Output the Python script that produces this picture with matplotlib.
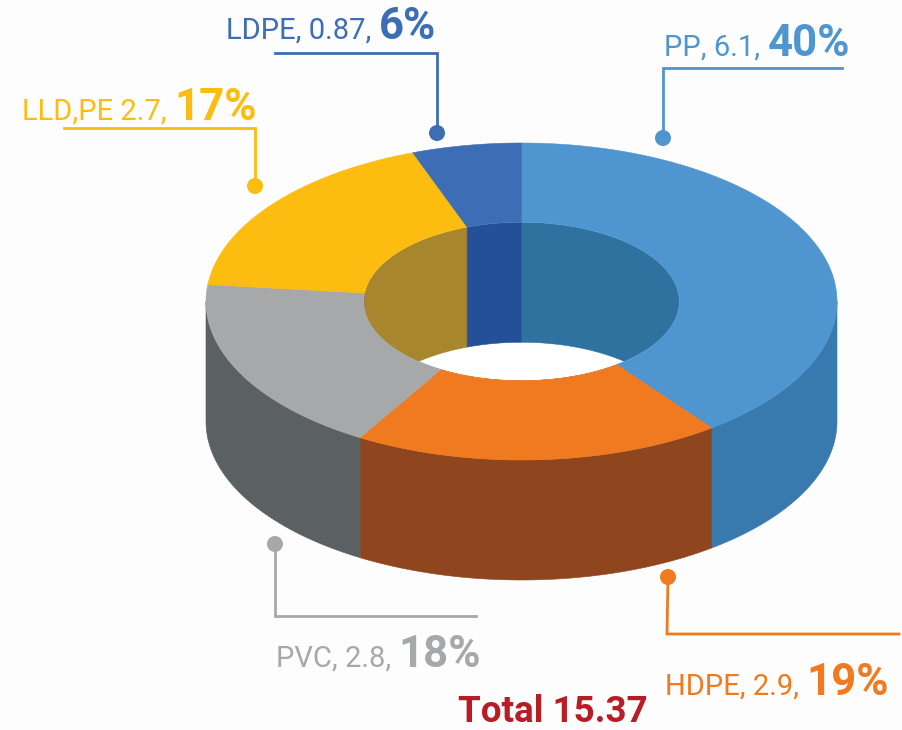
import numpy as np
import matplotlib
matplotlib.use('Agg')
import matplotlib.pyplot as plt
from matplotlib.patches import Polygon, Circle

categories = ['PP', 'HDPE', 'PVC', 'LLD,PE', 'LDPE']
amounts = ['6.1', '2.9', '2.8', '2.7', '0.87']
shares = [40, 19, 18, 17, 6]
# slice sizes as actually drawn in the picture (differ slightly from the printed shares)
drawn_shares = [39.7, 18.85, 18.15, 17.7, 5.6]
top_colors = ['#4f95d0', '#f07a1f', '#a6a8a9', '#fdbd10', '#3d6db5']
wall_colors = ['#3879ae', '#8f451e', '#5b6163', '#b08a2a', '#25509c']
inner_colors = ['#2f719f', '#8f451e', '#5b6163', '#a8862e', '#24509a']
label_colors = ['#4f95d0', '#f07a1f', '#a6a8a9', '#fdbd10', '#3d6db5']
total_label = 'Total 15.37'

W, H = 902, 730
CX, CY, RX, RY, DEPTH = 521.5, 301.5, 315.5, 158.5, 120
HOLE = 0.5

plt.rcParams['font.family'] = ['Roboto', 'DejaVu Sans']
fig = plt.figure(figsize=(W / 100, H / 100), dpi=100, facecolor='#fdfdfd')
ax = fig.add_axes([0, 0, 1, 1])
ax.set_xlim(0, W)
ax.set_ylim(H, 0)
ax.axis('off')


def pt(theta, scale=1.0, dy=0.0):
    t = np.radians(theta)
    return CX + RX * scale * np.sin(t), CY - RY * scale * np.cos(t) + dy


edges = np.concatenate([[0], np.cumsum(drawn_shares)]) * 3.6
spans = list(zip(edges[:-1], edges[1:]))

# hole background and clip
hole_t = np.linspace(0, 360, 361)
hole_xy = np.column_stack(pt(hole_t, HOLE))
hole_patch = Polygon(hole_xy, closed=True, fc='white', ec='none', zorder=0)
ax.add_patch(hole_patch)

# inner wall (far side of the hole), clipped to the hole
for (a, b), c in zip(spans, inner_colors):
    th = np.linspace(a, b, 200)
    up = np.column_stack(pt(th, HOLE))
    lo = np.column_stack(pt(th, HOLE, DEPTH))
    p = Polygon(np.vstack([up, lo[::-1]]), closed=True, fc=c, ec=c, lw=0.4, zorder=1)
    ax.add_patch(p)
    p.set_clip_path(hole_patch)

# outer wall (near side only, 90..270 degrees)
for (a, b), c in zip(spans, wall_colors):
    lo_a, hi_b = max(a, 90), min(b, 270)
    if lo_a >= hi_b:
        continue
    th = np.linspace(lo_a, hi_b, 200)
    up = np.column_stack(pt(th))
    lo = np.column_stack(pt(th, 1.0, DEPTH))
    ax.add_patch(Polygon(np.vstack([up, lo[::-1]]), closed=True, fc=c, ec=c, lw=0.4, zorder=2))

# top face
for (a, b), c in zip(spans, top_colors):
    th = np.linspace(a, b, 200)
    ax.add_patch(Polygon(np.vstack([np.column_stack(pt(th)), np.column_stack(pt(th[::-1], HOLE))]),
                         closed=True, fc=c, ec=c, lw=0.4, zorder=3))

# callouts: leader path, dot, text
leaders = [
    ([663, 663, 842], [138, 68, 68], 664, 56),
    ([668, 667, 899], [577, 634, 634], 665, 695),
    ([275, 275, 476], [544, 616, 616], 276, 667),
    ([255, 255, 64], [186, 128, 128], 22, 120),
    ([437, 437, 275], [133, 53, 53], 226, 39),
]
for (xs, ys, tx, ty), col, cat, amt, sh in zip(leaders, label_colors, categories, amounts, shares):
    ax.plot(xs, ys, color=col, lw=2, solid_joinstyle='miter', zorder=4)
    ax.add_patch(Circle((xs[0], ys[0]), 8, fc=col, ec='none', zorder=5))
    sep = ' ' if cat == 'LLD,PE' else ', '
    t = ax.text(tx, ty, f'{cat}{sep}{amt}, ', color=col, fontsize=21, va='baseline', ha='left', zorder=6)
    fig.canvas.draw()
    bb = t.get_window_extent()
    ax.text(bb.x1, ty, f'{sh}%', color=col, fontsize=31.5, fontweight='bold', va='baseline', ha='left', zorder=6)

ax.text(458, 722, total_label, color='#b81c25', fontsize=26.5, fontweight='bold', va='baseline', ha='left', zorder=6)

fig.savefig('out.png', dpi=100, facecolor=fig.get_facecolor())
